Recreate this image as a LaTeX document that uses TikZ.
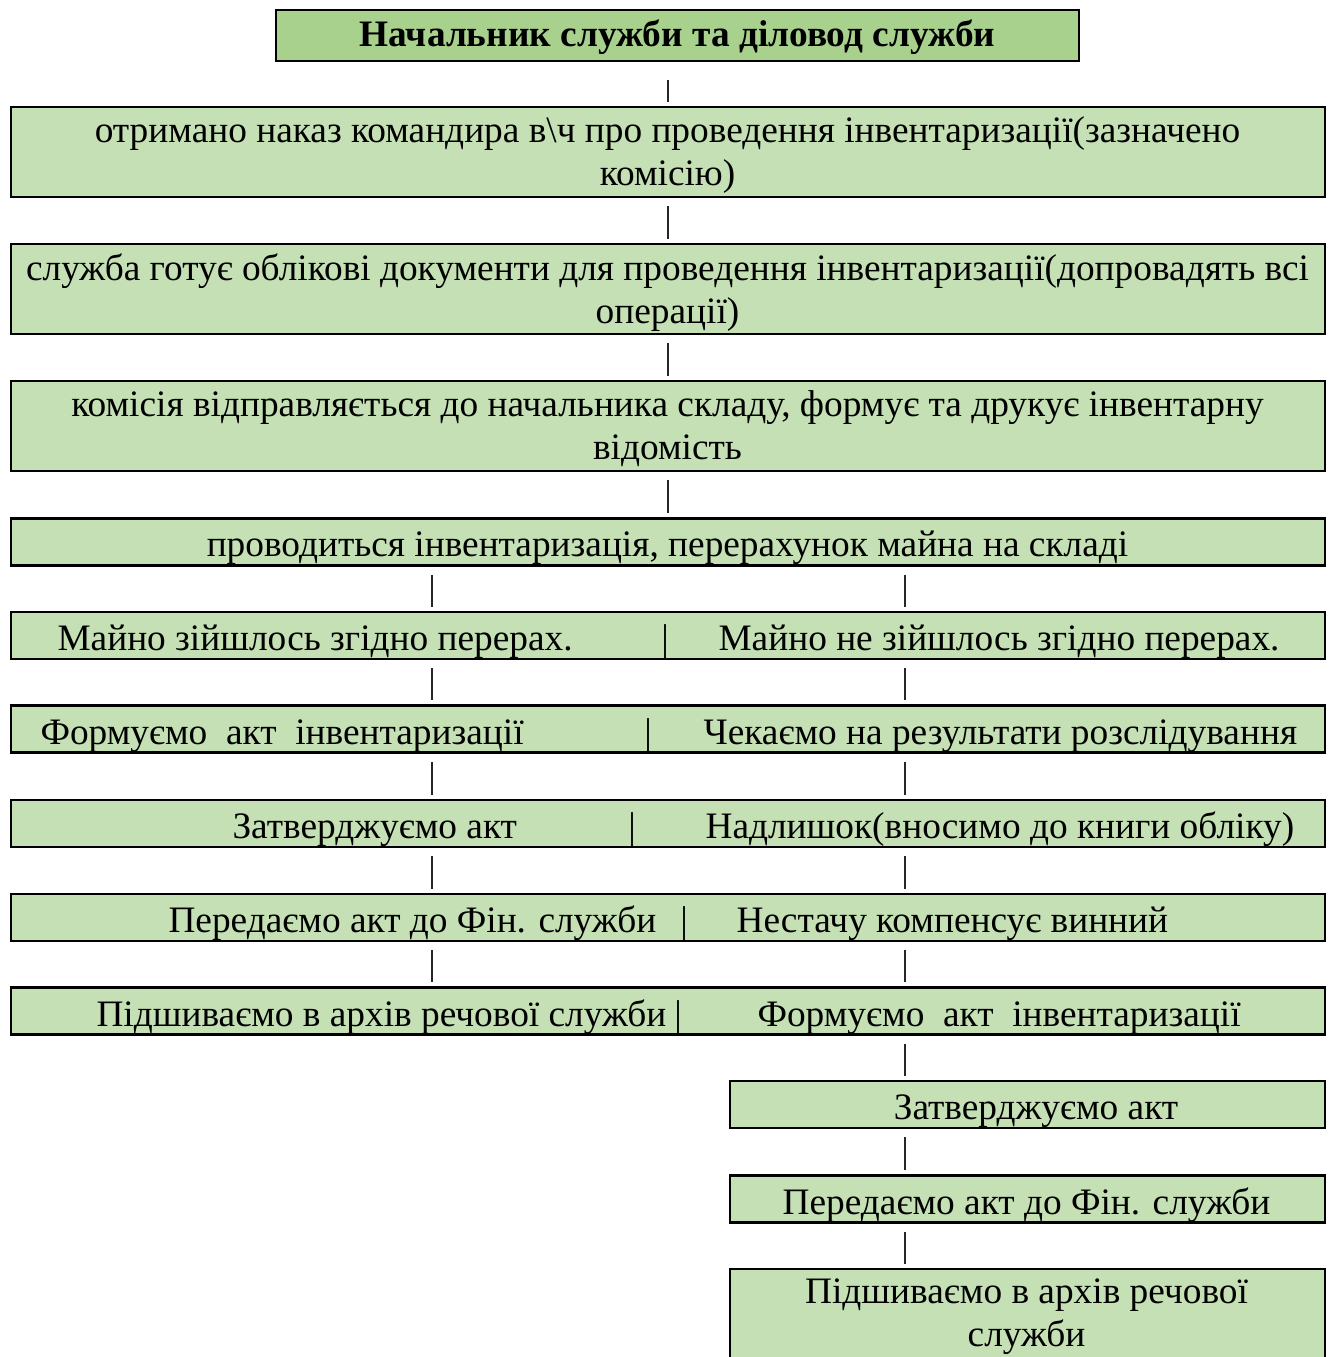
\documentclass[tikz,border=0pt]{standalone}
\usepackage{fontspec}
\setmainfont{Liberation Serif}
\definecolor{headgreen}{HTML}{A9D18E}
\definecolor{boxgreen}{HTML}{C5E0B4}

\begin{document}
\begin{tikzpicture}[x=0.375pt,y=-0.375pt,
    box/.style={draw,line width=0.9pt,fill=boxgreen,inner sep=0pt,minimum width=492.6pt,minimum height=17.5pt},
    tallbox/.style={box,minimum height=33.6pt},
    halfbox/.style={box,minimum width=223pt},
    txt/.style={inner sep=0pt,anchor=north,align=center,font=\fontsize{14}{16.1}\selectfont,execute at begin node=\strut},
    lefttxt/.style={txt,anchor=north west},
    link/.style={draw=black!85,line width=0.5pt,shorten <=3pt,shorten >=1.5pt}]
    \useasboundingbox (0,0) rectangle (1334,1357);
    \coordinate (lcol) at (432,0);
    \coordinate (rcol) at (905,0);

    % Head
    \node[box,fill=headgreen,minimum width=301pt,minimum height=19pt] (head) at (677.5,35.5) {};
    \node[txt,font=\fontsize{14}{16.1}\selectfont\bfseries] (head-t) at (677.5,16) {Начальник служби та діловод служби};

    % Common steps
    \node[tallbox] (order) at (668,152) {};
    \node[txt] (order-t) at (667.5,116) {отримано наказ командира в\textbackslash{}ч про проведення інвентаризації(зазначено\\комісію)};

    \node[tallbox] (docs) at (668,289) {};
    \node[txt] (docs-t) at (667.5,253) {служба готує облікові документи для проведення інвентаризації(допровадять всі\\операції)};

    \node[tallbox] (sheet) at (668,426) {};
    \node[txt] (sheet-t) at (667.5,390) {комісія відправляється до начальника складу, формує та друкує інвентарну\\відомість};

    \node[box] (count) at (668,542) {};
    \node[txt] (count-t) at (667.5,526) {проводиться інвентаризація, перерахунок майна на складі};

    % Two branches in one row
    \node[box] (r1) at (668,635.5) {};
    \node[lefttxt] (r1-l) at (57,620) {Майно зійшлось згідно перерах.};
    \node[txt] (r1-s) at (665,620) {|};
    \node[lefttxt] (r1-r) at (718,620) {Майно не зійшлось згідно перерах.};

    \node[box] (r2) at (668,729) {};
    \node[lefttxt] (r2-l) at (40,714) {Формуємо~ акт~ інвентаризації};
    \node[txt] (r2-s) at (648,714) {|};
    \node[lefttxt] (r2-r) at (703,714) {Чекаємо на результати розслідування};

    \node[box] (r3) at (668,823.5) {};
    \node[lefttxt] (r3-l) at (232,808) {Затверджуємо акт};
    \node[txt] (r3-s) at (632,808) {|};
    \node[lefttxt] (r3-r) at (705,808) {Надлишок(вносимо до книги обліку)};

    \node[box] (r4) at (668,917.5) {};
    \node[lefttxt] (r4-l) at (168,902) {Передаємо акт до Фін. служби};
    \node[txt] (r4-s) at (684,902) {|};
    \node[lefttxt] (r4-r) at (736,902) {Нестачу компенсує винний};

    \node[box] (r5) at (668,1011) {};
    \node[lefttxt] (r5-l) at (96,996) {Підшиваємо в архів речової служби};
    \node[txt] (r5-s) at (678,996) {|};
    \node[lefttxt] (r5-r) at (757,996) {Формуємо~ акт~ інвентаризації};

    % Right branch only
    \node[halfbox] (approve) at (1027.5,1104.5) {};
    \node[txt] (approve-t) at (1036,1089) {Затверджуємо акт};

    \node[halfbox] (send) at (1027.5,1199) {};
    \node[txt] (send-t) at (1026.5,1184) {Передаємо акт до Фін. служби};

    \node[halfbox,minimum height=33.6pt] (archive) at (1027.5,1314) {};
    \node[txt] (archive-t) at (1026.5,1278) {Підшиваємо в архів речової\\служби};

    % Links
    \draw[link,shorten <=6.75pt] (head.south -| order.north) -- (order.north);
    \foreach \a/\b in {order/docs,docs/sheet,sheet/count}
        \draw[link] (\a.south) -- (\b.north);
    \foreach \a/\b in {count/r1,r1/r2,r2/r3,r3/r4,r4/r5} {
        \draw[link] (\a.south -| lcol) -- (\b.north -| lcol);
        \draw[link] (\a.south -| rcol) -- (\b.north -| rcol);
    }
    \foreach \a/\b in {r5/approve,approve/send,send/archive}
        \draw[link] (\a.south -| rcol) -- (\b.north -| rcol);
\end{tikzpicture}
\end{document}
